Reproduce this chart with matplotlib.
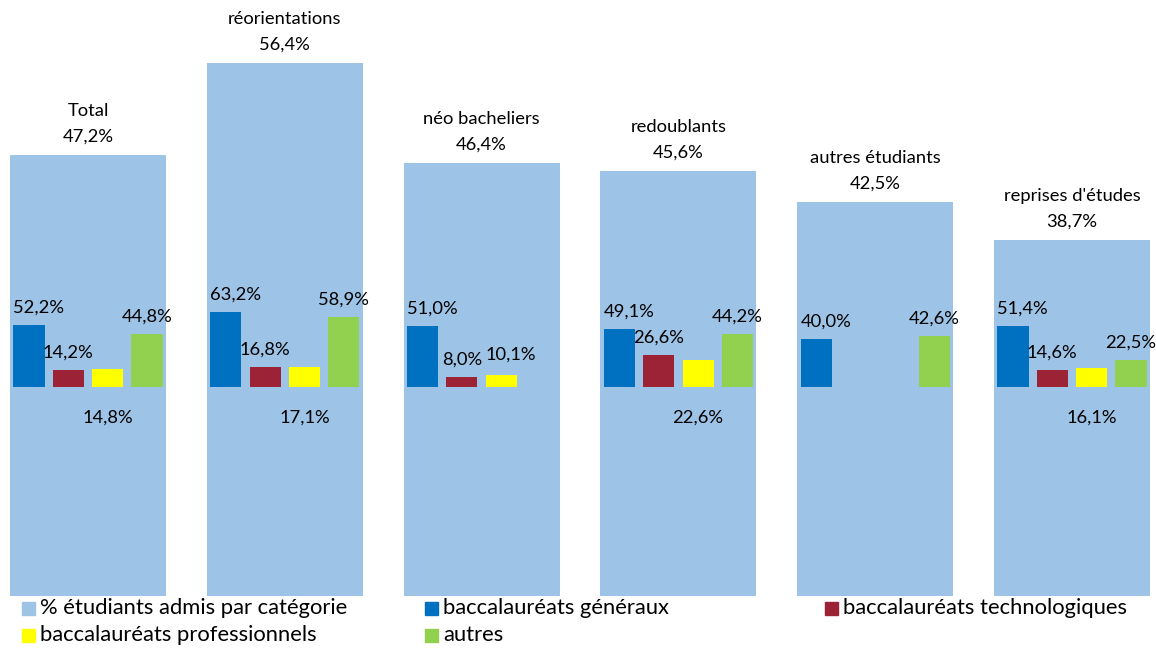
import math

import matplotlib

matplotlib.use("Agg")
import matplotlib.pyplot as plt
from matplotlib.patches import Rectangle

plt.rcParams["font.family"] = ["Lato", "DejaVu Sans"]

categories = ["Total", "réorientations", "néo bacheliers", "redoublants",
              "autres étudiants", "reprises d'études"]
admis = [47.2, 56.4, 46.4, 45.6, 42.5, 38.7]
bac_generaux = [52.2, 63.2, 51.0, 49.1, 40.0, 51.4]
bac_techno = [14.2, 16.8, 8.0, 26.6, math.nan, 14.6]
bac_pro = [14.8, 17.1, 10.1, 22.6, math.nan, 16.1]
autres = [44.8, 58.9, math.nan, 44.2, 42.6, 22.5]

legend_labels = ["% étudiants admis par catégorie", "baccalauréats généraux",
                 "baccalauréats technologiques", "baccalauréats professionnels", "autres"]
C_ADMIS, C_GEN, C_TECH, C_PRO, C_AUT = "#9DC3E6", "#0070C0", "#9B2335", "#FFFF00", "#92D050"

W, H = 1156, 648
LABEL_SIZE = 13.2


def pct(v):
    return f"{v:.1f}".replace(".", ",") + "%"


fig = plt.figure(figsize=(W / 100, H / 100), dpi=100)
ax = fig.add_axes([0, (H - 596) / H, 1, 596 / H])
ax2 = ax.twinx()
for a in (ax, ax2):
    a.set_axis_off()

x = list(range(len(categories)))
ax.set_xlim(-88 / 196.8, (W - 88) / 196.8)
ax.set_ylim((627 - 596) / 10, 627 / 10)
ax2.set_ylim((387 - 596) / 1.19, 387 / 1.19)

ax.bar(x, admis, width=0.793, color=C_ADMIS)
for xi, name, v in zip(x, categories, admis):
    ax.annotate(pct(v), (xi, v), xytext=(0, 13), textcoords="offset points",
                ha="center", va="center", fontsize=LABEL_SIZE)
    ax.annotate(name, (xi, v), xytext=(0, 32), textcoords="offset points",
                ha="center", va="center", fontsize=LABEL_SIZE)

series = [(bac_generaux, C_GEN, -0.3), (bac_techno, C_TECH, -0.1),
          (bac_pro, C_PRO, 0.1), (autres, C_AUT, 0.3)]
# Excel pushed the yellow labels under the baseline where they would hit the red ones
yellow_below = [True, True, False, True, False, True]

for k, (vals, color, off) in enumerate(series):
    xs = [xi + off for xi in x]
    ax2.bar(xs, vals, width=0.158, color=color)
    for i, (xv, v) in enumerate(zip(xs, vals)):
        if math.isnan(v):
            continue
        if k == 2 and yellow_below[i]:
            ax2.annotate(pct(v), (xv, 0), xytext=(0, -22), textcoords="offset points",
                         ha="center", va="center", fontsize=LABEL_SIZE)
        else:
            dx = 7 if k in (0, 2) else 0
            dy = 15 if k == 2 else 12.5
            ax2.annotate(pct(v), (xv, v), xytext=(dx, dy), textcoords="offset points",
                         ha="center", va="center", fontsize=LABEL_SIZE)

# legend laid out like the Excel one: three columns at fixed places, row-major
legend_cols = [22, 425, 825]
legend_rows = [608, 635]
colors = [C_ADMIS, C_GEN, C_TECH, C_PRO, C_AUT]
for i, (label, color) in enumerate(zip(legend_labels, colors)):
    px = legend_cols[i % 3]
    py = legend_rows[i // 3]
    fig.patches.append(Rectangle((px / W, (H - py - 7) / H), 13 / W, 13 / H,
                                 transform=fig.transFigure, color=color))
    fig.text((px + 18) / W, (H - py) / H, label, ha="left", va="center", fontsize=15.8)

fig.savefig("out.png", dpi=100)
